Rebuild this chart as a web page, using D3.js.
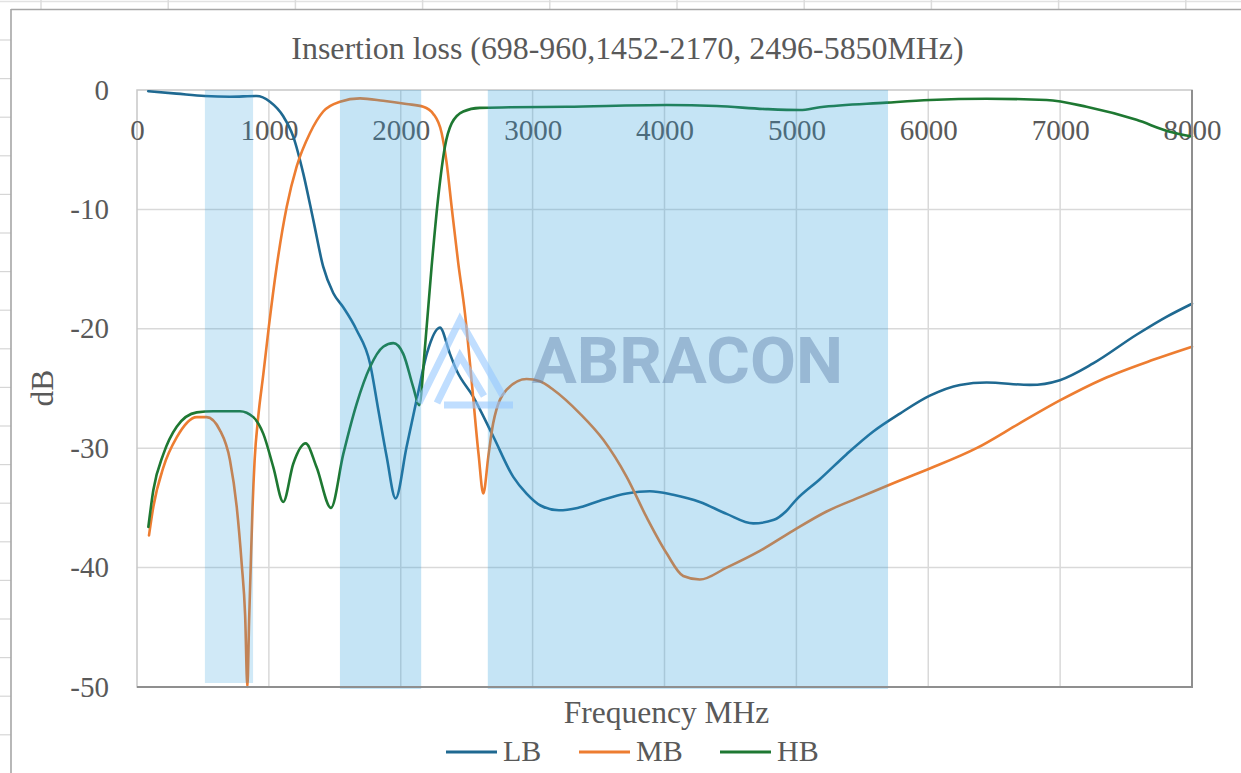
<!DOCTYPE html>
<html>
<head>
<meta charset="utf-8">
<script src="https://cdn.jsdelivr.net/npm/d3@7/dist/d3.min.js"></script>
<style>
  html, body { margin: 0; padding: 0; background: #ffffff; }
  svg { display: block; }
  text { font-family: "Liberation Serif", "Times New Roman", serif; fill: #595959; }
</style>
</head>
<body>
<svg id="chart" width="1241" height="773"></svg>
<script>
// ---------------- DATA ----------------
const TITLE = "Insertion loss (698-960,1452-2170, 2496-5850MHz)";
const X_TITLE = "Frequency MHz";
const Y_TITLE = "dB";
const X_TICKS = [0, 1000, 2000, 3000, 4000, 5000, 6000, 7000, 8000];
const Y_TICKS = [0, -10, -20, -30, -40, -50];
const SERIES_NAMES = ["LB", "MB", "HB"];

// shaded pass bands (MHz) as drawn
const BAND_START = [515, 1539, 2660];
const BAND_END   = [880, 2155, 5695];

const LB_FREQ = [85, 300, 515, 705, 907, 1008, 1109, 1185, 1261, 1337, 1412, 1488, 1564, 1665, 1767, 1830, 1893, 1961, 2044, 2125, 2200, 2297, 2373, 2424, 2550, 2701, 2853, 2954, 3060, 3200, 3340, 3510, 3713, 3889, 4066, 4268, 4471, 4673, 4830, 4920, 5000, 5178, 5381, 5583, 5785, 6012, 6240, 6442, 6770, 6998, 7250, 7579, 7806, 8000];
const LB_DB   = [-0.1, -0.3, -0.5, -0.56, -0.5, -0.98, -2.2, -3.9, -7.0, -10.9, -14.8, -17.0, -18.2, -20.1, -22.9, -26.8, -30.7, -34.2, -29.9, -25.7, -22.0, -19.9, -22.1, -23.5, -25.7, -29.0, -32.4, -33.8, -34.8, -35.2, -35.0, -34.4, -33.8, -33.6, -33.9, -34.5, -35.5, -36.3, -36.0, -35.3, -34.3, -32.6, -30.5, -28.6, -27.1, -25.6, -24.7, -24.5, -24.7, -24.3, -22.9, -20.5, -19.0, -17.9];

const MB_FREQ = [91, 124, 200, 301, 453, 528, 629, 705, 756, 794, 820, 837, 850, 862, 876, 892, 920, 958, 1000, 1059, 1135, 1211, 1312, 1412, 1539, 1691, 1867, 2044, 2171, 2247, 2310, 2348, 2386, 2436, 2487, 2537, 2590, 2626, 2664, 2701, 2803, 2954, 3055, 3157, 3359, 3536, 3713, 3865, 4016, 4142, 4268, 4471, 4723, 4976, 5229, 5482, 5785, 6012, 6366, 6695, 6998, 7326, 7705, 8000];
const MB_DB   = [-37.3, -34.9, -31.6, -29.1, -27.4, -27.4, -28.5, -31.0, -34.9, -39.7, -44.0, -50.0, -44.5, -40.0, -35.0, -31.0, -27.3, -23.8, -19.8, -14.8, -9.8, -6.4, -3.6, -1.8, -0.98, -0.7, -0.9, -1.17, -1.4, -2.0, -3.6, -6.1, -9.8, -14.5, -18.7, -24.3, -30.5, -33.8, -30.7, -27.9, -25.1, -24.2, -24.4, -25.1, -27.1, -29.3, -32.4, -35.8, -38.8, -40.7, -41.0, -40.0, -38.6, -36.9, -35.3, -34.1, -32.7, -31.7, -30.0, -27.9, -26.0, -24.2, -22.6, -21.5];

const HB_FREQ = [86, 124, 200, 301, 453, 579, 781, 882, 958, 1034, 1109, 1185, 1279, 1362, 1471, 1564, 1665, 1767, 1867, 1944, 2019, 2095, 2140, 2184, 2234, 2285, 2335, 2386, 2474, 2600, 2828, 3258, 4016, 4395, 4774, 5027, 5178, 5684, 6012, 6442, 6897, 7200, 7579, 7832, 8000];
const HB_DB   = [-36.6, -33.5, -30.5, -28.2, -27.0, -26.9, -26.9, -27.4, -28.8, -31.6, -34.5, -31.3, -29.6, -31.6, -35.0, -30.5, -26.3, -23.2, -21.5, -21.2, -22.1, -24.9, -26.4, -21.5, -14.8, -8.9, -4.75, -2.8, -1.8, -1.5, -1.45, -1.4, -1.26, -1.34, -1.6, -1.68, -1.45, -1.06, -0.84, -0.73, -0.84, -1.4, -2.5, -3.5, -3.9];

// ---------------- STYLE ----------------
const COLORS = { LB: "#1f6991", MB: "#ed7d31", HB: "#1e7832" };

const series = [
  { name: "LB", freq: LB_FREQ, db: LB_DB },
  { name: "MB", freq: MB_FREQ, db: MB_DB },
  { name: "HB", freq: HB_FREQ, db: HB_DB }
];

const W = 1241, H = 773;
const plot = { left: 137, right: 1192, top: 90, bottom: 687 };

const svg = d3.select("#chart");
svg.append("rect").attr("width", W).attr("height", H).attr("fill", "#fff");

// ---- spreadsheet frame remnants ----
const frame = svg.append("g");
frame.append("line").attr("x1", 0).attr("x2", W).attr("y1", 1.5).attr("y2", 1.5)
  .attr("stroke", "#e2e2e2").attr("stroke-width", 1.5);
d3.range(41, W, 127.2).forEach(x => {
  frame.append("line").attr("x1", x).attr("x2", x).attr("y1", 0).attr("y2", 9)
    .attr("stroke", "#dcdcdc").attr("stroke-width", 1.5);
});
d3.range(40, H, 38.6).forEach(y => {
  frame.append("line").attr("x1", 0).attr("x2", 11).attr("y1", y).attr("y2", y)
    .attr("stroke", "#d6d6d6").attr("stroke-width", 1.2);
});
frame.append("line").attr("x1", 11).attr("x2", W).attr("y1", 9.5).attr("y2", 9.5)
  .attr("stroke", "#a6a6a6").attr("stroke-width", 1.6);
frame.append("line").attr("x1", 11).attr("x2", 11).attr("y1", 9).attr("y2", H)
  .attr("stroke", "#a6a6a6").attr("stroke-width", 1.6);

// ---- scales ----
const x = d3.scaleLinear().domain([0, 8000]).range([plot.left, plot.right]);
const y = d3.scaleLinear().domain([-50, 0]).range([plot.bottom, plot.top]);

// ---- grid ----
const grid = svg.append("g");
grid.selectAll("line.v").data(X_TICKS.slice(1)).join("line")
  .attr("x1", d => x(d)).attr("x2", d => x(d))
  .attr("y1", plot.top).attr("y2", plot.bottom)
  .attr("stroke", "#d9d9d9").attr("stroke-width", 1.5);
grid.selectAll("line.h").data(Y_TICKS.slice(1)).join("line")
  .attr("x1", plot.left).attr("x2", plot.right)
  .attr("y1", d => y(d)).attr("y2", d => y(d))
  .attr("stroke", "#d9d9d9").attr("stroke-width", 1.5);

// plot border (light)
svg.append("rect")
  .attr("x", plot.left).attr("y", plot.top)
  .attr("width", plot.right - plot.left).attr("height", plot.bottom - plot.top)
  .attr("fill", "none").attr("stroke", "#c8c8c8").attr("stroke-width", 1.5);

// ---- axes (labels only) ----
const fmt = d => String(d);
const xAxis = svg.append("g").attr("transform", `translate(0,${y(0)})`)
  .call(d3.axisBottom(x).tickValues(X_TICKS).tickSize(0).tickFormat(fmt));
xAxis.select(".domain").remove();
xAxis.selectAll("text")
  .attr("y", 50).attr("dy", 0)
  .style("font-family", '"Liberation Serif", serif')
  .style("font-size", "29px").style("fill", "#595959");

const yAxis = svg.append("g").attr("transform", `translate(${plot.left},0)`)
  .call(d3.axisLeft(y).tickValues(Y_TICKS).tickSize(0).tickFormat(fmt));
yAxis.select(".domain").remove();
yAxis.selectAll("text")
  .attr("x", -28).attr("dy", 9)
  .style("font-family", '"Liberation Serif", serif')
  .style("font-size", "29px").style("fill", "#595959");

// ---- series lines ----
const line = d3.line()
  .x(d => x(d[0])).y(d => y(d[1]))
  .curve(d3.curveMonotoneX);

svg.append("g").selectAll("path").data(series).join("path")
  .attr("d", s => line(s.freq.map((f, i) => [f, s.db[i]])))
  .attr("fill", "none")
  .attr("stroke", s => COLORS[s.name])
  .attr("stroke-width", 2.6)
  .attr("stroke-linejoin", "round")
  .attr("stroke-linecap", "round");

// ---- shaded bands (overlay) ----
const bands = BAND_START.map((s, i) => ({ s, e: BAND_END[i], i }));
svg.append("g").selectAll("rect").data(bands).join("rect")
  .attr("x", d => x(d.s))
  .attr("width", d => x(d.e) - x(d.s))
  .attr("y", y(0))
  .attr("height", d => (d.i === 0 ? y(-50) - 4 : y(-50) + 2) - y(0))
  .attr("fill", "rgb(40,155,218)")
  .attr("fill-opacity", d => d.i === 0 ? 0.22 : 0.27);

// ---- watermark ----
const wm = svg.append("g");
wm.append("path")
  .attr("d", "M419,403 L460,320 L503,396 M437,403 L460,356 L484,396 M444,405 L513,405")
  .attr("fill", "none").attr("stroke", "rgb(150,200,255)")
  .attr("stroke-opacity", 0.6).attr("stroke-width", 7);
wm.append("text")
  .attr("x", 532).attr("y", 383)
  .attr("textLength", 311).attr("lengthAdjust", "spacingAndGlyphs")
  .style("font-family", "Roboto, 'DejaVu Sans', sans-serif")
  .style("font-weight", 700).style("font-size", "64px")
  .style("fill", "rgb(97,130,172)").style("fill-opacity", 0.45)
  .text("ABRACON");

// shadowed bottom/right borders
svg.append("line").attr("x1", plot.left).attr("x2", plot.right + 1)
  .attr("y1", plot.bottom).attr("y2", plot.bottom)
  .attr("stroke", "#8f8f8f").attr("stroke-width", 2);
svg.append("line").attr("x1", plot.right).attr("x2", plot.right)
  .attr("y1", plot.top).attr("y2", plot.bottom)
  .attr("stroke", "#8f8f8f").attr("stroke-width", 2);

// ---- titles ----
svg.append("text").attr("x", 627.5).attr("y", 59)
  .attr("text-anchor", "middle").style("font-size", "31.9px")
  .text(TITLE);
svg.append("text").attr("x", 666.5).attr("y", 723)
  .attr("text-anchor", "middle").style("font-size", "31.5px")
  .text(X_TITLE);
svg.append("text")
  .attr("transform", "translate(53,388) rotate(-90)")
  .attr("text-anchor", "middle").style("font-size", "31.5px")
  .text(Y_TITLE);

// ---- legend ----
const legendX = [446, 579, 720];
const legend = svg.append("g");
SERIES_NAMES.forEach((name, i) => {
  legend.append("line")
    .attr("x1", legendX[i]).attr("x2", legendX[i] + 51)
    .attr("y1", 752).attr("y2", 752)
    .attr("stroke", COLORS[name]).attr("stroke-width", 3);
  legend.append("text")
    .attr("x", legendX[i] + 57).attr("y", 761)
    .style("font-size", "30px")
    .text(name);
});
</script>
</body>
</html>
